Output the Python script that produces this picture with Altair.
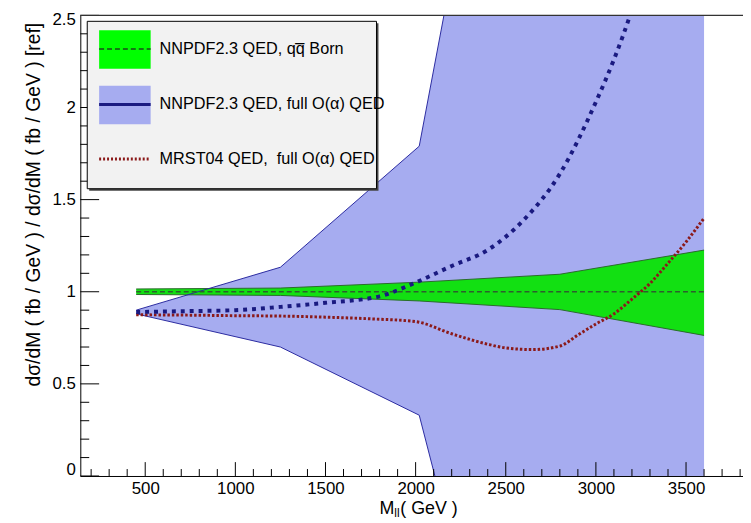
import altair as alt
import pandas as pd

# ---------------- data ----------------
# green band: NNPDF2.3 QED, q qbar Born (uncertainty band, central = 1)
green_x = [450, 1250, 2020, 2800, 3600]
green_lo = [0.985, 0.980, 0.950, 0.903, 0.763]
green_hi = [1.015, 1.020, 1.052, 1.095, 1.226]
born_x = [450, 3600]
born_y = [1.0, 1.0]

# blue band: NNPDF2.3 QED, full O(alpha) QED (uncertainty, runs off scale)
blue_x = [450, 1250, 2020, 2800, 3600]
blue_lo = [0.880, 0.700, 0.330, -2.63, -5.0]
blue_hi = [0.900, 1.133, 1.790, 5.83, 8.0]

# NNPDF2.3 QED full O(alpha) central
nn_x = [450, 750, 1000, 1250, 1500, 1800, 2000, 2200, 2400, 2600, 2800, 3000, 3100, 3200, 3300]
nn_y = [0.890, 0.895, 0.900, 0.918, 0.940, 0.975, 1.050, 1.140, 1.227, 1.390, 1.640, 2.030, 2.260, 2.530, 2.850]

# MRST04 QED full O(alpha) central
mr_x = [450, 750, 1000, 1250, 1500, 1750, 2000, 2200, 2400, 2500, 2650, 2800, 2900, 3000, 3100, 3200, 3300, 3400, 3500, 3600]
mr_y = [0.875, 0.873, 0.870, 0.868, 0.862, 0.853, 0.838, 0.772, 0.715, 0.695, 0.686, 0.705, 0.765, 0.825, 0.880, 0.960, 1.045, 1.155, 1.270, 1.400]

x_major = [500, 1000, 1500, 2000, 2500, 3000, 3500]
x_minor = [v for v in range(200, 3900, 100) if v % 500 != 0]
y_major = [0, 0.5, 1.0, 1.5, 2.0, 2.5]
y_minor = [round(i * 0.1, 1) for i in range(1, 25) if i % 5 != 0]

legend_labels = ["NNPDF2.3 QED, qq\u0305 Born",
                 "NNPDF2.3 QED, full O(\u03b1) QED",
                 "MRST04 QED,\u00a0 full O(\u03b1) QED"]

y_title = "d\u03c3/dM ( fb / GeV ) / d\u03c3/dM ( fb / GeV ) [ref]"

# ---------------- layout ----------------
W, H = 669, 465
FONT = "Liberation Sans"
xs = alt.Scale(domain=[140, 3816], nice=False, zero=False)
ys = alt.Scale(domain=[0, 2.5], nice=False, zero=False)

BLUE = "#a6acf0"
GREEN = "#12e012"
NAVY = "#1a1a80"
DKRED = "#8b1a1a"
DKGREEN = "#2d5f2d"

xaxis = alt.Axis(values=x_major, ticks=False, tickSize=0, grid=False, title=None, format="d",
                 labelFont=FONT, labelFontSize=17, labelColor="black", labelPadding=5,
                 domainColor="black", domainWidth=1)
yaxis = alt.Axis(values=y_major, ticks=False, tickSize=0, grid=False, format="~g",
                 labelFont=FONT, labelFontSize=17, labelColor="black", labelPadding=5,
                 labelOffset={"condition": [{"test": "datum.value == 0", "value": -7},
                                            {"test": "datum.value == 2.5", "value": 4}],
                              "value": 0},
                 domainColor="black", domainWidth=1,
                 title=y_title, titleFont=FONT, titleFontSize=19.5, titleFontWeight="normal",
                 titleColor="black", titleAngle=270, titleX=-47, titleY=7,
                 titleAlign="right", titleBaseline="middle")


def X(f):
    return alt.X(f, scale=xs, axis=xaxis)


def Y(f):
    return alt.Y(f, scale=ys, axis=yaxis)


blue_df = pd.DataFrame({"x": blue_x, "lo": blue_lo, "hi": blue_hi})
green_df = pd.DataFrame({"x": green_x, "lo": green_lo, "hi": green_hi})
born_df = pd.DataFrame({"x": born_x, "y": born_y})
nn_df = pd.DataFrame({"x": nn_x, "y": nn_y})
mr_df = pd.DataFrame({"x": mr_x, "y": mr_y})
one = pd.DataFrame({"k": [0]})

blue_area = alt.Chart(blue_df).mark_area(color=BLUE, opacity=1, clip=True).encode(
    x=X("x:Q"), y=Y("lo:Q"), y2="hi:Q")
blue_hi_line = alt.Chart(blue_df).mark_line(color="#2a2aa0", strokeWidth=1, clip=True).encode(
    x=X("x:Q"), y=Y("hi:Q"))
blue_lo_line = alt.Chart(blue_df).mark_line(color="#2a2aa0", strokeWidth=1, clip=True).encode(
    x=X("x:Q"), y=Y("lo:Q"))

green_area = alt.Chart(green_df).mark_area(color=GREEN, opacity=1, clip=True).encode(
    x=X("x:Q"), y=Y("lo:Q"), y2="hi:Q")
green_hi_line = alt.Chart(green_df).mark_line(color="#2a6a2a", strokeWidth=1, clip=True).encode(
    x=X("x:Q"), y=Y("hi:Q"))
green_lo_line = alt.Chart(green_df).mark_line(color="#2a6a2a", strokeWidth=1, clip=True).encode(
    x=X("x:Q"), y=Y("lo:Q"))
born_line = alt.Chart(born_df).mark_line(color=DKGREEN, strokeWidth=1.5, strokeDash=[5, 3], clip=True).encode(
    x=X("x:Q"), y=Y("y:Q"))

mr_line = alt.Chart(mr_df).mark_line(color=DKRED, strokeWidth=3, strokeDash=[2.5, 2],
                                     interpolate="monotone", clip=True).encode(
    x=X("x:Q"), y=Y("y:Q"))
nn_line = alt.Chart(nn_df).mark_line(color=NAVY, strokeWidth=4, strokeDash=[4, 5],
                                     interpolate="monotone", clip=True).encode(
    x=X("x:Q"), y=Y("y:Q"))

# ticks (ROOT style, inside the frame)
xmaj = alt.Chart(pd.DataFrame({"x": x_major})).mark_rule(color="black", strokeWidth=1).encode(
    x=X("x:Q"), y=alt.value(H), y2=alt.value(H - 14))
xmin_ = alt.Chart(pd.DataFrame({"x": x_minor})).mark_rule(color="black", strokeWidth=1).encode(
    x=X("x:Q"), y=alt.value(H), y2=alt.value(H - 7))
ymaj = alt.Chart(pd.DataFrame({"y": y_major})).mark_rule(color="black", strokeWidth=1).encode(
    y=Y("y:Q"), x=alt.value(0), x2=alt.value(19))
ymin_ = alt.Chart(pd.DataFrame({"y": y_minor})).mark_rule(color="black", strokeWidth=1).encode(
    y=Y("y:Q"), x=alt.value(0), x2=alt.value(9))
top_frame = alt.Chart(one).mark_rule(color="#333333", strokeWidth=1.5).encode(
    x=alt.value(0), x2=alt.value(W), y=alt.value(0))

# legend (frame-relative pixel layout)
LX0, LX1, LY0, LY1 = 7, 299, 6, 175
leg_shadow = alt.Chart(one).mark_rect(color="#444444").encode(
    x=alt.value(LX0 + 2), x2=alt.value(LX1 + 2), y=alt.value(LY0 + 2), y2=alt.value(LY1 + 2))
leg_box = alt.Chart(one).mark_rect(fill="#f2f2f2", stroke="black", strokeWidth=1).encode(
    x=alt.value(LX0), x2=alt.value(LX1), y=alt.value(LY0), y2=alt.value(LY1))
SX0, SX1 = 19, 71
sym1 = alt.Chart(one).mark_rect(color="#00ff00").encode(
    x=alt.value(SX0), x2=alt.value(SX1), y=alt.value(15), y2=alt.value(54))
sym1l = alt.Chart(one).mark_rule(color="#1a4a1a", strokeWidth=1.5, strokeDash=[5, 3]).encode(
    x=alt.value(SX0), x2=alt.value(SX1), y=alt.value(34))
sym2 = alt.Chart(one).mark_rect(color=BLUE).encode(
    x=alt.value(SX0), x2=alt.value(SX1), y=alt.value(71), y2=alt.value(110))
sym2l = alt.Chart(one).mark_rule(color=NAVY, strokeWidth=3).encode(
    x=alt.value(SX0), x2=alt.value(SX1), y=alt.value(90))
sym3l = alt.Chart(one).mark_rule(color=DKRED, strokeWidth=3, strokeDash=[2, 2]).encode(
    x=alt.value(SX0), x2=alt.value(SX1), y=alt.value(145))
leg_texts = []
for lab, yy in zip(legend_labels, [34, 90, 145]):
    leg_texts.append(alt.Chart(one).mark_text(font=FONT, fontSize=16.4, align="left",
                                              baseline="middle", color="black").encode(
        x=alt.value(80), y=alt.value(yy), text=alt.value(lab)))

# x-axis title with subscript
XT_B = 503
xt1 = alt.Chart(one).mark_text(font=FONT, fontSize=18, align="left", baseline="alphabetic",
                               color="black").encode(x=alt.value(302), y=alt.value(XT_B), text=alt.value("M"))
xt2 = alt.Chart(one).mark_text(font=FONT, fontSize=12, align="left", baseline="alphabetic",
                               color="black").encode(x=alt.value(317), y=alt.value(XT_B + 3), text=alt.value("ll"))
xt3 = alt.Chart(one).mark_text(font=FONT, fontSize=18, align="left", baseline="alphabetic",
                               color="black").encode(x=alt.value(323), y=alt.value(XT_B),
                                                     text=alt.value("\u00a0( GeV )"))

chart = alt.layer(
    blue_area, green_area, green_hi_line, green_lo_line, blue_hi_line, blue_lo_line,
    born_line, mr_line, nn_line,
    xmin_, xmaj, ymin_, ymaj, top_frame,
    leg_shadow, leg_box, sym1, sym1l, sym2, sym2l, sym3l, *leg_texts,
    xt1, xt2, xt3,
).properties(
    width=W, height=H,
    padding={"left": 73, "top": 5, "right": 0, "bottom": 44},
    autosize=alt.AutoSizeParams(type="none"),
    background="white",
).configure_view(stroke=None)

chart.save("out.html", embed_options={"renderer": "svg", "actions": False})
